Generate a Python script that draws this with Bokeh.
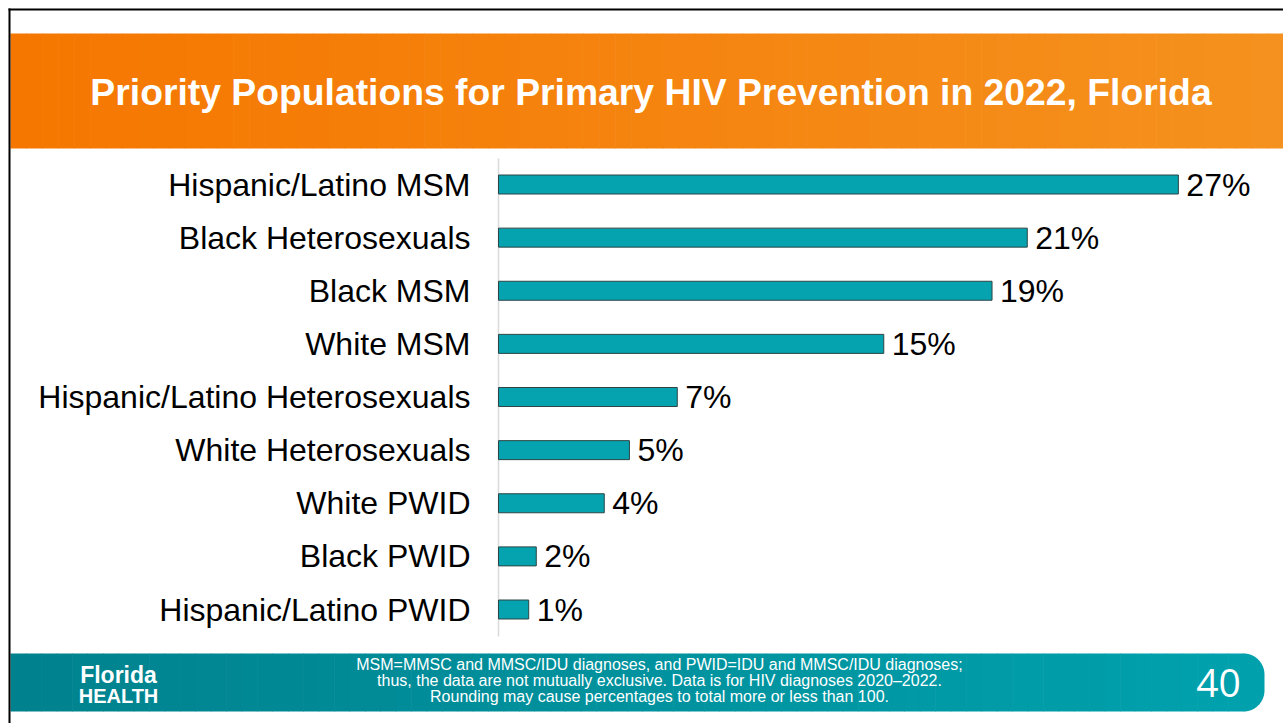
from bokeh.plotting import figure
from bokeh.models import Range1d
from bokeh.core.properties import value
from bokeh.embed import file_html
from bokeh.resources import INLINE
import math

# ---------------- data ----------------
categories = [
    "Hispanic/Latino MSM",
    "Black Heterosexuals",
    "Black MSM",
    "White MSM",
    "Hispanic/Latino Heterosexuals",
    "White Heterosexuals",
    "White PWID",
    "Black PWID",
    "Hispanic/Latino PWID",
]
values = [27.0, 21.0, 19.6, 15.3, 7.1, 5.2, 4.2, 1.5, 1.2]
value_labels = ["27%", "21%", "19%", "15%", "7%", "5%", "4%", "2%", "1%"]

title_text = "Priority Populations for Primary HIV Prevention in 2022, Florida"
footnote_lines = [
    "MSM=MMSC and MMSC/IDU diagnoses, and PWID=IDU and MMSC/IDU diagnoses;",
    "thus, the data are not mutually exclusive. Data is for HIV diagnoses 2020\u20132022.",
    "Rounding may cause percentages to total more or less than 100.",
]
logo_lines = ["Florida", "HEALTH"]
slide_number = "40"

# ---------------- geometry ----------------
W, H = 1283, 723
SX = 25.18    # px per percent
SY = 53.125   # px per category slot
X0_PAGE = 498  # page x of zero
x_start = -X0_PAGE / SX
x_end = x_start + W / SX
n = len(categories)
y_end = (n - 0.5) + 184 / SY
y_start = y_end - H / SY


def X(px):
    return x_start + px / SX


def Y(py):
    return y_end - py / SY


ypos = [n - 1 - i + 0.5 for i in range(n)]

p = figure(width=W, height=H, output_backend="svg", toolbar_location=None,
           x_range=Range1d(x_start, x_end), y_range=Range1d(y_start, y_end),
           x_axis_type=None, y_axis_type=None)
p.min_border = 0
p.min_border_left = 0
p.min_border_right = 0
p.min_border_top = 0
p.min_border_bottom = 0
p.outline_line_color = None
p.grid.visible = False
p.background_fill_color = "white"
p.border_fill_color = "white"

FONT = value("Liberation Sans")


def lerp_color(c1, c2, t):
    return "#%02x%02x%02x" % tuple(int(round(a + (b - a) * t)) for a, b in zip(c1, c2))


# header gradient band
nstrip = 80
hx0, hx1 = 10, 1283
l, r, c = [], [], []
for i in range(nstrip):
    a = hx0 + (hx1 - hx0) * i / nstrip
    b = hx0 + (hx1 - hx0) * (i + 1) / nstrip
    l.append(X(a)); r.append(X(b + 0.6))
    c.append(lerp_color((245, 119, 0), (245, 145, 30), i / (nstrip - 1)))
p.quad(left=l, right=r, top=Y(33), bottom=Y(148), fill_color=c, line_color=None)

# footer gradient band with rounded right end
fx0, fx1, rad = 10, 1264, 21
ft, fb = 653, 711
body_end = fx1 - rad
l, r, c = [], [], []
c_left, c_right = (0, 130, 142), (0, 161, 173)
for i in range(nstrip):
    a = fx0 + (body_end - fx0) * i / nstrip
    b = fx0 + (body_end - fx0) * (i + 1) / nstrip
    l.append(X(a)); r.append(X(b + 0.6))
    c.append(lerp_color(c_left, c_right, i / (nstrip - 1)))
p.quad(left=l, right=r, top=Y(ft), bottom=Y(fb), fill_color=c, line_color=None)
px_pts, py_pts = [body_end], [ft]
for k in range(0, 21):
    ang = math.pi / 2 - (math.pi / 2) * k / 20
    px_pts.append(body_end + rad * math.cos(ang))
    py_pts.append(ft + rad - rad * math.sin(ang))
for k in range(0, 21):
    ang = -(math.pi / 2) * k / 20
    px_pts.append(body_end + rad * math.cos(ang))
    py_pts.append(fb - rad - rad * math.sin(ang))
px_pts.append(body_end); py_pts.append(fb)
p.patch([X(v) for v in px_pts], [Y(v) for v in py_pts],
        fill_color=lerp_color(c_left, c_right, 1.0), line_color=None)

# slide border (left & top)
p.quad(left=[X(8)], right=[X(10)], top=[Y(8)], bottom=[Y(723)],
       fill_color="black", line_color=None)
p.quad(left=[X(8)], right=[X(1283)], top=[Y(8)], bottom=[Y(10)],
       fill_color="black", line_color=None)

# category axis line
p.segment(x0=[0], y0=[Y(158)], x1=[0], y1=[Y(636)], line_color="#D9D9D9", line_width=1.5)

# bars
p.hbar(y=ypos, left=0, right=values, height=19 / SY,
       fill_color="#04A3AF", line_color="#2E4545", line_width=1)

# category labels
p.text(x=[0] * n, y=ypos, text=categories, x_offset=-28, text_align="right",
       text_baseline="middle", text_font=FONT, text_font_size="32px",
       text_color="black")

# value labels
p.text(x=values, y=ypos, text=value_labels, x_offset=8, text_align="left",
       text_baseline="middle", text_font=FONT, text_font_size="32px",
       text_color="black")

# title
p.text(x=[X(650.5)], y=[Y(91)], text=[title_text], text_align="center",
       text_baseline="middle", text_font=FONT, text_font_size="37.3px",
       text_font_style="bold", text_color="white")

# footnote
p.text(x=[X(659)] * 3, y=[Y(664), Y(680), Y(696)], text=footnote_lines,
       text_align="center", text_baseline="middle", text_font=FONT,
       text_font_size="16px", text_color="white")

# logo
p.text(x=[X(118), X(118)], y=[Y(674), Y(695)], text=logo_lines,
       text_align="center", text_baseline="middle", text_font=FONT,
       text_font_size=["23px", "20px"], text_font_style="bold", text_color="white")

# slide number
p.text(x=[X(1218)], y=[Y(682)], text=[slide_number], text_align="center",
       text_baseline="middle", text_font=value("Open Sans"),
       text_font_size="39px", text_color="white")

open("out.html", "w").write(file_html(p, INLINE))
